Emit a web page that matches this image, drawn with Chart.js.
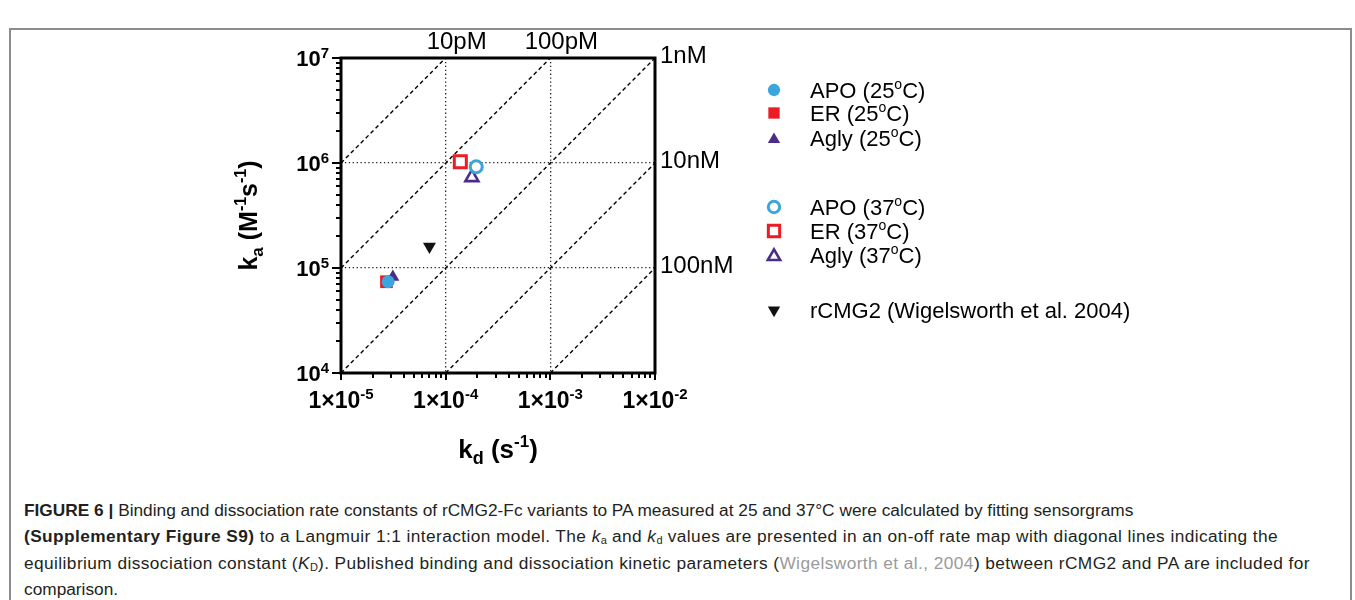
<!DOCTYPE html>
<html>
<head>
<meta charset="utf-8">
<script src="https://cdn.jsdelivr.net/npm/chart.js@4.4.1/dist/chart.umd.min.js"></script>
<style>
  html, body { margin: 0; padding: 0; background: #fff; }
  body { width: 1355px; height: 600px; position: relative; overflow: hidden;
         font-family: "Liberation Sans", Arial, sans-serif; }
  #frame { position: absolute; left: 9px; top: 28px; width: 1343px; height: 600px;
           border: 2px solid #8c8c8c; border-bottom: none; box-sizing: border-box; }
  #wrap { position: absolute; left: 0; top: 0; width: 1355px; height: 480px; }
  #caption { position: absolute; left: 24px; top: 497px; font-size: 17.3px; line-height: 26.3px;
             color: #231f20; white-space: nowrap; }
  #caption .ref { color: #9a9a9a; }
  #caption .wide { letter-spacing: 0.42px; }
  #caption sub { font-size: 11px; vertical-align: -2px; line-height: 0; letter-spacing: 0; }
</style>
</head>
<body>
<div id="frame"></div>
<div id="wrap"><canvas id="chart" width="1355" height="480"></canvas></div>
<div id="caption">
  <b>FIGURE 6 |</b> Binding and dissociation rate constants of rCMG2-Fc variants to PA measured at 25 and 37°C were calculated by fitting sensorgrams<br>
  <span class="wide"><b>(Supplementary Figure S9)</b> to a Langmuir 1:1 interaction model. The <i>k</i><sub>a</sub> and <i>k</i><sub>d</sub> values are presented in an on-off rate map with diagonal lines indicating the</span><br>
  <span class="wide">equilibrium dissociation constant (<i>K</i><sub>D</sub>). Published binding and dissociation kinetic parameters (<span class="ref">Wigelsworth et al., 2004</span>) between rCMG2 and PA are included for</span><br>
  comparison.
</div>

<script>
// ── Data ──────────────────────────────────────────────────────────────────────
const KD_TICKS = [1e-5, 1e-4, 1e-3, 1e-2];          // k_d axis (s^-1)
const KD_EXP   = ["-5", "-4", "-3", "-2"];
const KA_TICKS = [1e4, 1e5, 1e6, 1e7];              // k_a axis (M^-1 s^-1)
const KA_EXP   = ["4", "5", "6", "7"];

const KD_LINES  = [1e-11, 1e-10, 1e-9, 1e-8, 1e-7]; // iso-affinity lines (M)
const KD_LABELS = ["10pM", "100pM", "1nM", "10nM", "100nM"];

const apo25  = [{ x: 2.82e-5, y: 7.4e4 }];
const er25   = [{ x: 2.72e-5, y: 7.4e4 }];
const agly25 = [{ x: 3.13e-5, y: 8.2e4 }];
const apo37  = [{ x: 1.96e-4, y: 9.2e5 }];
const er37   = [{ x: 1.38e-4, y: 1.03e6 }];
const agly37 = [{ x: 1.78e-4, y: 7.3e5 }];
const rcmg2  = [{ x: 7.0e-5,  y: 1.6e5 }];

const LEGEND = [
  ["APO (25", "C)"], ["ER (25", "C)"], ["Agly (25", "C)"],
  ["APO (37", "C)"], ["ER (37", "C)"], ["Agly (37", "C)"],
  ["rCMG2 (Wigelsworth et al. 2004)"]
];

// ── Styles ────────────────────────────────────────────────────────────────────
const BLUE = "#3aa6dd", RED = "#ec1c24", PURPLE = "#4b2c86", BLACK = "#111";
const FONT = '"Liberation Sans", Arial, sans-serif';

const KD_MIN = KD_TICKS[0], KD_MAX = KD_TICKS[KD_TICKS.length - 1];
const KA_MIN = KA_TICKS[0], KA_MAX = KA_TICKS[KA_TICKS.length - 1];

// iso-K_D line: ka = kd / KD, clipped to the plot range
function isoLine(K) {
  const x0 = Math.max(KD_MIN, KA_MIN * K);
  const x1 = Math.min(KD_MAX, KA_MAX * K);
  return [{ x: x0, y: x0 / K }, { x: x1, y: x1 / K }];
}

function pt(label, data, style, r, fill, stroke, lw, order, rot) {
  return {
    label, data, order,
    pointStyle: style, pointRadius: r, pointHoverRadius: r,
    pointBackgroundColor: fill, pointBorderColor: stroke,
    pointBorderWidth: lw, pointRotation: rot || 0,
    showLine: false
  };
}

const pointSets = [
  pt("APO (25°C)",  apo25,  "circle",   6.5, BLUE,   BLUE,   0, 1),
  pt("ER (25°C)",   er25,   "rect",     9,   RED,    RED,    0, 3),
  pt("Agly (25°C)", agly25, "triangle", 7.5, PURPLE, PURPLE, 0, 2),
  pt("APO (37°C)",  apo37,  "circle",   6,   "#fff", BLUE,   3, 1),
  pt("ER (37°C)",   er37,   "rect",     8.5, "#fff", RED,    3, 3),
  pt("Agly (37°C)", agly37, "triangle", 7.5, "#fff", PURPLE, 2.6, 2),
  pt("rCMG2",       rcmg2,  "triangle", 7.5, BLACK,  BLACK,  0, 1, 180)
];

const lineSets = KD_LINES.map((K, i) => ({
  label: KD_LABELS[i], data: isoLine(K), order: 10,
  showLine: true, borderColor: "#000", borderWidth: 1.4, borderDash: [4, 3],
  pointRadius: 0, pointHoverRadius: 0, fill: false
}));

// ── Drawing helpers ───────────────────────────────────────────────────────────
function drawMarker(ctx, ds, x, y) {
  const r = ds.pointRadius, rot = (ds.pointRotation || 0) * Math.PI / 180;
  ctx.save();
  ctx.beginPath();
  if (ds.pointStyle === "circle") {
    ctx.arc(x, y, r, 0, Math.PI * 2);
  } else if (ds.pointStyle === "rect") {
    const s = r * Math.SQRT1_2;
    ctx.rect(x - s, y - s, 2 * s, 2 * s);
  } else {
    for (let k = 0; k < 3; k++) {
      const a = rot + k * 2 * Math.PI / 3;
      const px = x + Math.sin(a) * r, py = y - Math.cos(a) * r;
      k ? ctx.lineTo(px, py) : ctx.moveTo(px, py);
    }
    ctx.closePath();
  }
  ctx.fillStyle = ds.pointBackgroundColor;
  ctx.fill();
  if (ds.pointBorderWidth) {
    ctx.lineWidth = ds.pointBorderWidth;
    ctx.strokeStyle = ds.pointBorderColor;
    ctx.stroke();
  }
  ctx.restore();
}

// parts: [text, size, dy, weight]
function richText(ctx, parts, x, y, align) {
  let w = 0;
  parts.forEach(p => {
    ctx.font = `${p[3] || "bold"} ${p[1]}px ${FONT}`;
    p.w = ctx.measureText(p[0]).width;
    w += p.w;
  });
  let cx = align === "right" ? x - w : align === "center" ? x - w / 2 : x;
  ctx.textAlign = "left";
  ctx.textBaseline = "alphabetic";
  parts.forEach(p => {
    ctx.font = `${p[3] || "bold"} ${p[1]}px ${FONT}`;
    ctx.fillText(p[0], cx, y + (p[2] || 0));
    cx += p.w;
  });
}

// ── Plugin: frame, tick marks, labels, legend ─────────────────────────────────
const decor = {
  id: "decor",
  afterDraw(chart) {
    const { ctx, chartArea: a, scales: { x, y } } = chart;
    ctx.save();
    ctx.fillStyle = "#000";
    ctx.strokeStyle = "#000";

    // frame
    ctx.lineWidth = 3;
    ctx.strokeRect(a.left, a.top, a.right - a.left, a.bottom - a.top);

    // log tick marks
    ctx.lineWidth = 2;
    ctx.beginPath();
    for (let i = 0; i < KA_TICKS.length; i++) {
      const base = KA_TICKS[i];
      const py = Math.round(y.getPixelForValue(base));
      ctx.moveTo(a.left - 9, py); ctx.lineTo(a.left, py);
      if (i < KA_TICKS.length - 1)
        for (let m = 2; m <= 9; m++) {
          const q = Math.round(y.getPixelForValue(base * m));
          ctx.moveTo(a.left - 5, q); ctx.lineTo(a.left, q);
        }
    }
    for (let i = 0; i < KD_TICKS.length; i++) {
      const base = KD_TICKS[i];
      const px = Math.round(x.getPixelForValue(base));
      ctx.moveTo(px, a.bottom); ctx.lineTo(px, a.bottom + 7);
      if (i < KD_TICKS.length - 1)
        for (let m = 2; m <= 9; m++) {
          const q = Math.round(x.getPixelForValue(base * m));
          ctx.moveTo(q, a.bottom); ctx.lineTo(q, a.bottom + 5);
        }
    }
    ctx.stroke();

    // tick labels
    KA_TICKS.forEach((v, i) => {
      const py = y.getPixelForValue(v);
      richText(ctx, [["10", 22, 0], [KA_EXP[i], 15, -8]], a.left - 12, py + 8, "right");
    });
    KD_TICKS.forEach((v, i) => {
      const px = x.getPixelForValue(v);
      richText(ctx, [["1×10", 23, 0], [KD_EXP[i], 15, -9]], px, 408, "center");
    });

    // axis titles
    richText(ctx, [["k", 26, 0], ["d", 18, 6], [" (s", 26, 0], ["-1", 17, -11], [")", 26, 0]],
             (a.left + a.right) / 2, 458, "center");
    ctx.save();
    ctx.translate(257, (a.top + a.bottom) / 2);
    ctx.rotate(-Math.PI / 2);
    richText(ctx, [["k", 25, 0], ["a", 17, 6], [" (M", 25, 0], ["-1", 16, -11],
                   ["s", 25, 0], ["-1", 16, -11], [")", 25, 0]], 0, 0, "center");
    ctx.restore();

    // K_D labels where each iso line meets the top or right edge
    ctx.font = `24px ${FONT}`;
    KD_LINES.forEach((K, i) => {
      const end = isoLine(K)[1];
      const px = x.getPixelForValue(end.x), py = y.getPixelForValue(end.y);
      if (end.x < KD_MAX) {
        ctx.textAlign = "center"; ctx.textBaseline = "alphabetic";
        ctx.fillText(KD_LABELS[i], px + 11, a.top - 9);
      } else {
        ctx.textAlign = "left"; ctx.textBaseline = "middle";
        ctx.fillText(KD_LABELS[i], a.right + 5, py - 2);
      }
    });

    // legend
    const rows = [90, 113, 138, 207, 231, 255, 310];
    pointSets.forEach((ds, i) => {
      const ly = rows[i];
      drawMarker(ctx, Object.assign({}, ds, { pointRadius: ds.pointStyle === "rect" ? 8 : ds.pointRadius * 0.95 }), 774, ly + (ds.pointStyle === "triangle" && !ds.pointRotation ? 1.5 : 0));
      const L = LEGEND[i];
      const parts = [[L[0], 22, 0, "normal"]];
      if (L.length > 1) parts.push(["o", 14, -9, "normal"], [L[1], 22, 0, "normal"]);
      richText(ctx, parts, 810, ly + 8, "left");
    });

    ctx.restore();
  }
};

// ── Chart ─────────────────────────────────────────────────────────────────────
new Chart(document.getElementById("chart"), {
  type: "scatter",
  data: { datasets: [...pointSets, ...lineSets] },
  options: {
    responsive: false,
    animation: false,
    devicePixelRatio: 1,
    layout: { padding: { left: 341, top: 58, right: 1355 - 655, bottom: 480 - 373 } },
    plugins: { legend: { display: false }, tooltip: { enabled: false } },
    scales: {
      x: {
        type: "logarithmic", min: KD_MIN, max: KD_MAX,
        afterBuildTicks: s => { s.ticks = KD_TICKS.map(v => ({ value: v })); },
        ticks: { display: false },
        grid: {
          drawTicks: false, lineWidth: 1.3,
          color: c => (c.tick && c.tick.value > KD_MIN && c.tick.value < KD_MAX) ? "#222" : "rgba(0,0,0,0)"
        },
        border: { display: false, dash: [1.3, 2.6] }
      },
      y: {
        type: "logarithmic", min: KA_MIN, max: KA_MAX,
        afterBuildTicks: s => { s.ticks = KA_TICKS.map(v => ({ value: v })); },
        ticks: { display: false },
        grid: {
          drawTicks: false, lineWidth: 1.3,
          color: c => (c.tick && c.tick.value > KA_MIN && c.tick.value < KA_MAX) ? "#222" : "rgba(0,0,0,0)"
        },
        border: { display: false, dash: [1.3, 2.6] }
      }
    }
  },
  plugins: [decor]
});
</script>
</body>
</html>
